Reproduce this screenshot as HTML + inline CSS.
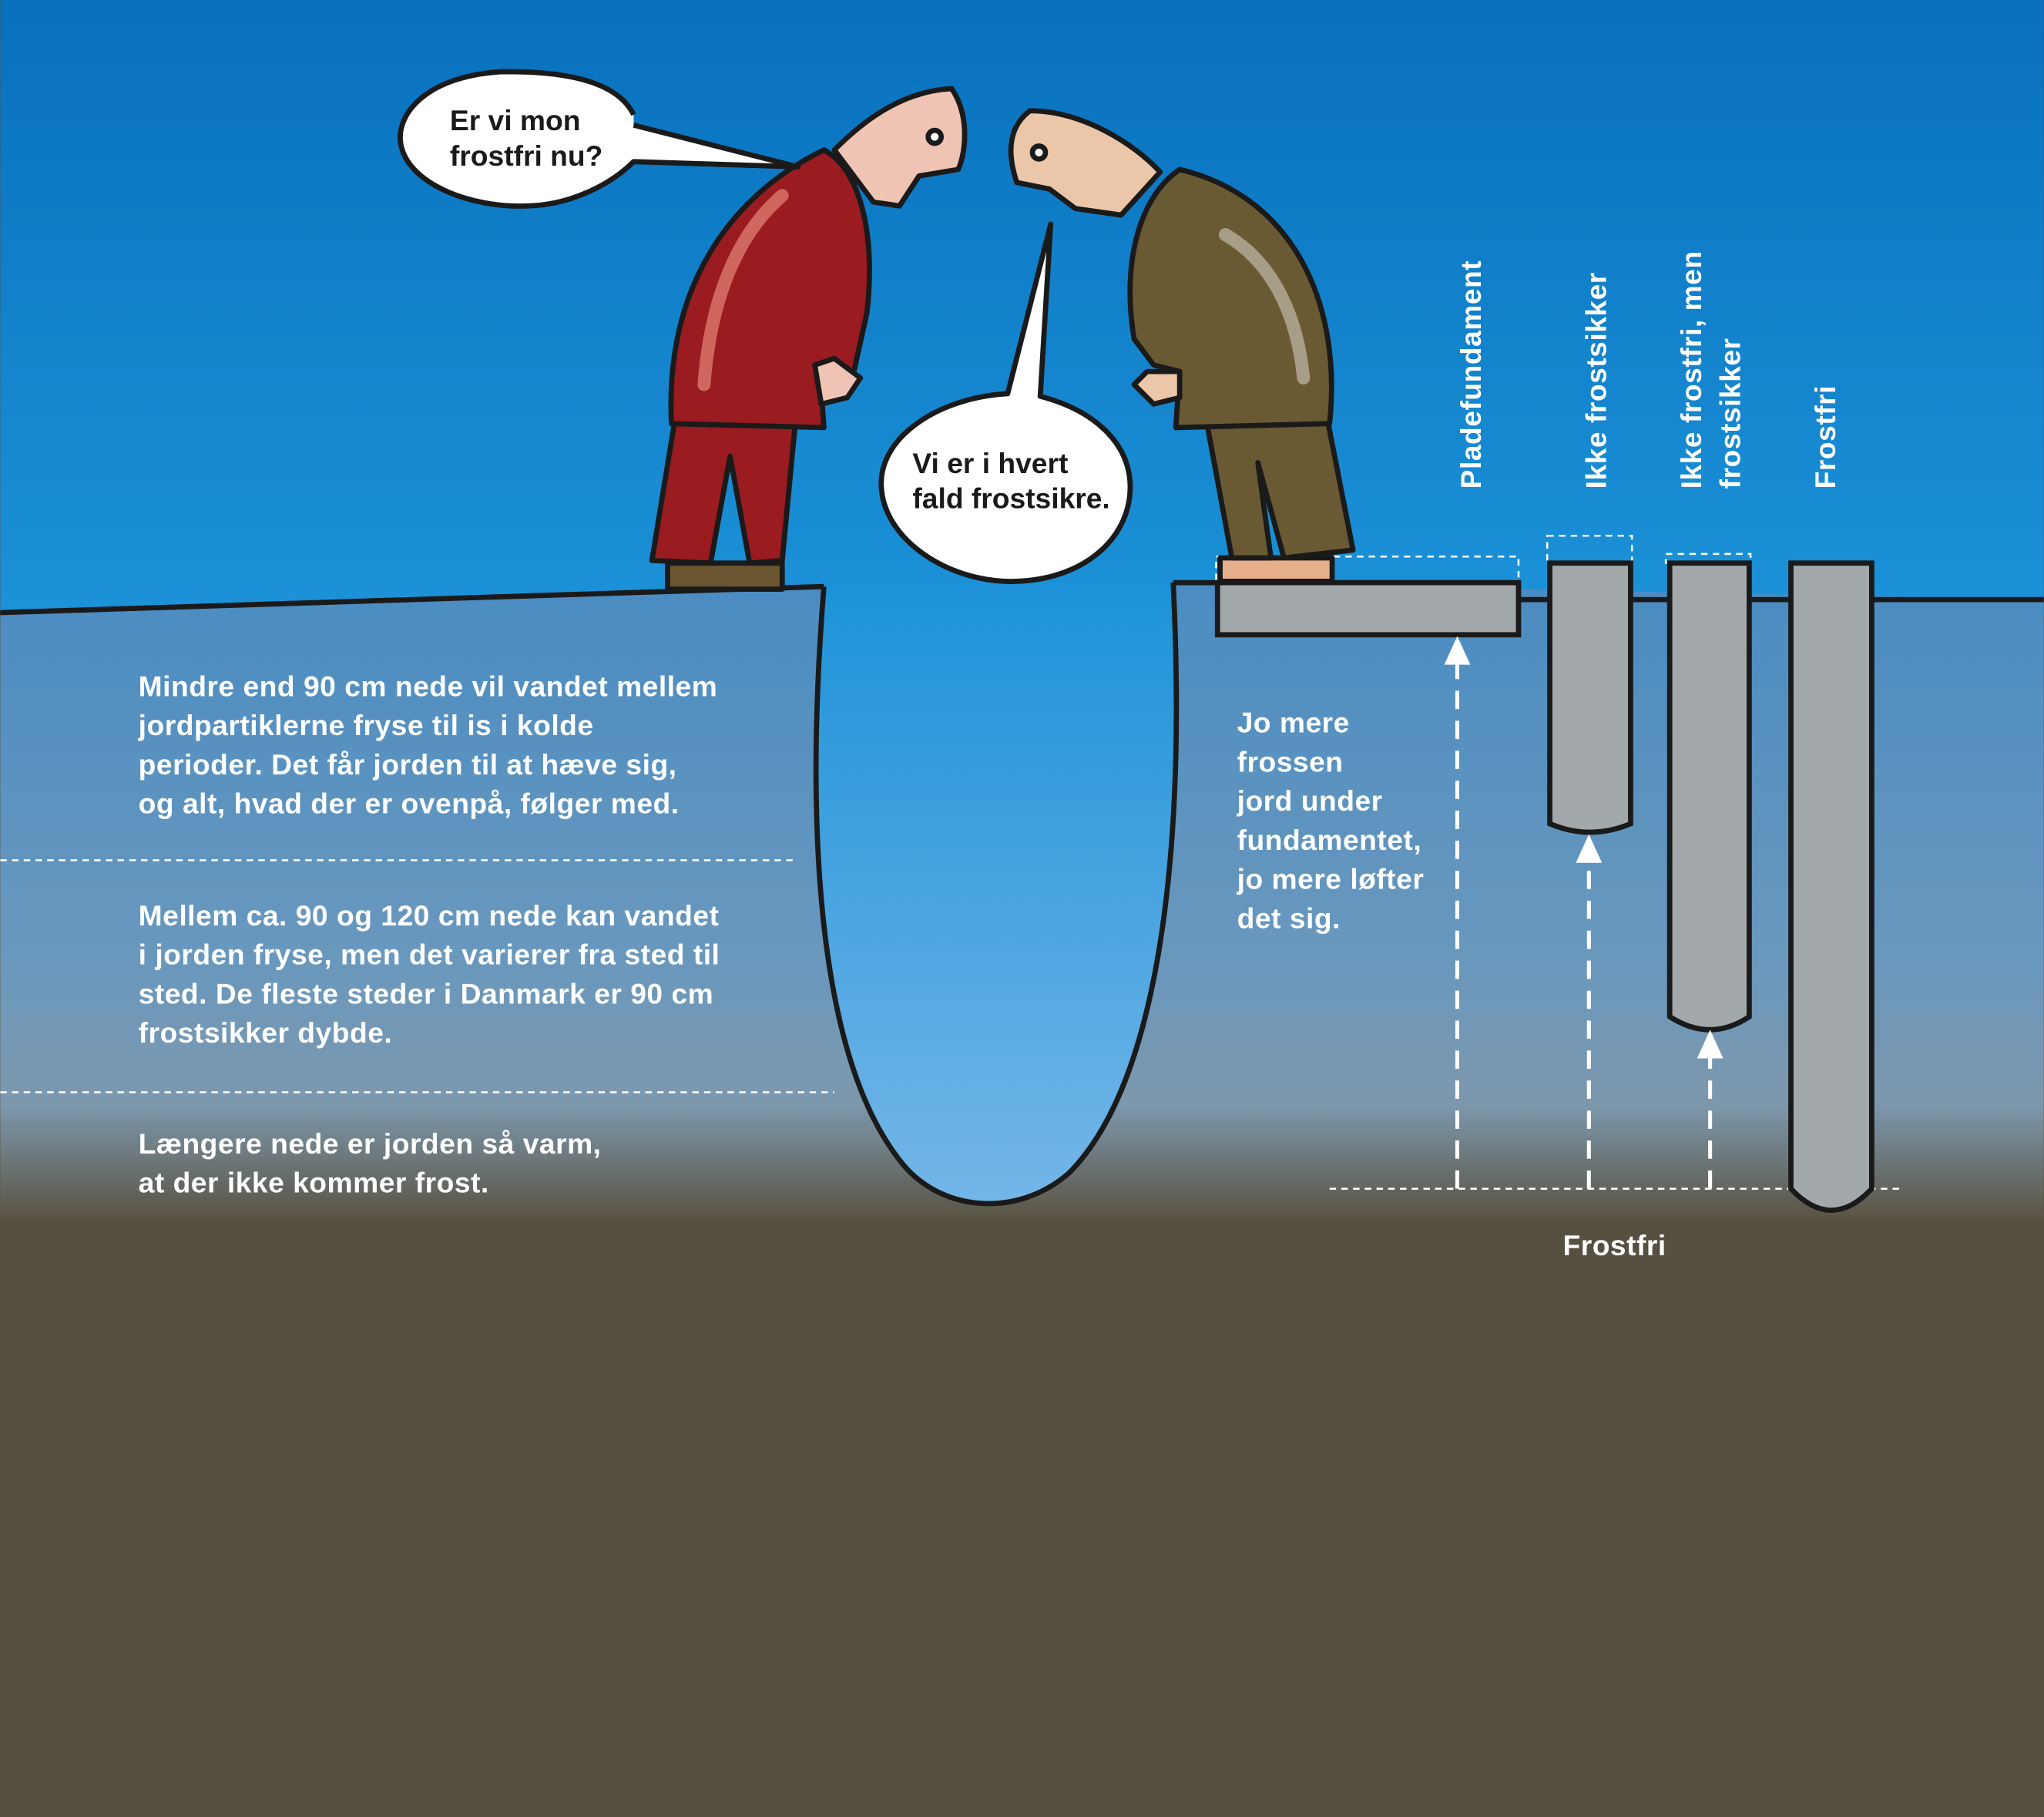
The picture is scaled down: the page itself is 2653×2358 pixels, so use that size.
<!DOCTYPE html>
<html><head><meta charset="utf-8">
<style>
html,body{margin:0;padding:0;background:#555040;}
svg{display:block;}
text{font-family:"Liberation Sans",sans-serif;font-weight:bold;}
</style></head>
<body>
<svg width="2653" height="2358" viewBox="0 0 1568 1394" xmlns="http://www.w3.org/2000/svg">
<defs>
<linearGradient id="sky" x1="0" y1="0" x2="0" y2="1">
<stop offset="0" stop-color="#0870bd"/><stop offset="1" stop-color="#1c92d8"/>
</linearGradient>
<linearGradient id="ground" x1="0" y1="0" x2="0" y2="1">
<stop offset="0" stop-color="#4a8cc2"/><stop offset="0.6" stop-color="#6a98bd"/>
<stop offset="0.82" stop-color="#7d98ad"/><stop offset="1" stop-color="#5a5443"/>
</linearGradient>
<linearGradient id="hole" x1="0" y1="0" x2="0" y2="1">
<stop offset="0" stop-color="#1c92d8"/><stop offset="1" stop-color="#74b6e8"/>
</linearGradient>
</defs>
<rect width="1568" height="1394" fill="#565040"/>
<rect width="1568" height="470" fill="url(#sky)"/>
<!-- ground -->
<path d="M0,470 L632,450 L900,447 L1568,460 L1568,935 L0,935 z" fill="url(#ground)"/>
<!-- hole -->
<path d="M632,450 C620,600 620,800 690,890 C720,930 780,935 820,900 C890,830 910,650 900,447 L632,447 Z" fill="url(#hole)"/>
<path d="M632,450 C620,600 620,800 690,890 C720,930 780,935 820,900 C890,830 910,650 900,447" fill="none" stroke="#1a1a1a" stroke-width="4"/>
<path d="M0,470 L632,450 M900,447 L935,447 M1165,460 L1568,460" stroke="#1a1a1a" stroke-width="4" fill="none"/>
<!-- dashed lines -->
<g stroke="#fff" stroke-width="1.5" stroke-dasharray="5,4" fill="none">
<line x1="0" y1="660" x2="610" y2="660"/>
<line x1="0" y1="838" x2="640" y2="838"/>
<line x1="1020" y1="912" x2="1458" y2="912"/>
<rect x="933" y="427" width="232" height="20"/>
<rect x="1187" y="411" width="65" height="21"/>
<rect x="1278" y="425" width="65" height="7"/>
</g>
<!-- foundations -->
<g fill="#a3a8ab" stroke="#1a1a1a" stroke-width="4">
<rect x="934" y="447" width="231" height="40"/>
<path d="M1189,432 H1251 V632 Q1220,645 1189,632 Z"/>
<path d="M1281,432 H1342 V780 Q1312,800 1281,780 Z"/>
<path d="M1374,432 H1436 V912 Q1405,945 1374,912 Z"/>
</g>
<!-- arrows -->
<g stroke="#fff" stroke-width="3" stroke-dasharray="14,9" fill="none">
<line x1="1118" y1="912" x2="1118" y2="505"/>
<line x1="1219" y1="912" x2="1219" y2="655"/>
<line x1="1312" y1="912" x2="1312" y2="805"/>
</g>
<g fill="#fff">
<path d="M1108,510 L1118,488 L1128,510 z"/>
<path d="M1209,662 L1219,640 L1229,662 z"/>
<path d="M1302,812 L1312,790 L1322,812 z"/>
</g>
<!-- texts -->
<g fill="#fff" font-size="22" letter-spacing="0.3">
<text x="106" y="534">Mindre end 90 cm nede vil vandet mellem</text>
<text x="106" y="564">jordpartiklerne fryse til is i kolde</text>
<text x="106" y="594">perioder. Det får jorden til at hæve sig,</text>
<text x="106" y="624">og alt, hvad der er ovenpå, følger med.</text>
<text x="106" y="710">Mellem ca. 90 og 120 cm nede kan vandet</text>
<text x="106" y="740">i jorden fryse, men det varierer fra sted til</text>
<text x="106" y="770">sted. De fleste steder i Danmark er 90 cm</text>
<text x="106" y="800">frostsikker dybde.</text>
<text x="106" y="885">Længere nede er jorden så varm,</text>
<text x="106" y="915">at der ikke kommer frost.</text>
<text x="949" y="562">Jo mere</text>
<text x="949" y="592">frossen</text>
<text x="949" y="622">jord under</text>
<text x="949" y="652">fundamentet,</text>
<text x="949" y="682">jo mere løfter</text>
<text x="949" y="712">det sig.</text>
<text x="1199" y="963">Frostfri</text>
<text transform="translate(1136,375) rotate(-90)">Pladefundament</text>
<text transform="translate(1232,375) rotate(-90)">Ikke frostsikker</text>
<text transform="translate(1305,375) rotate(-90)">Ikke frostfri, men</text>
<text transform="translate(1335,375) rotate(-90)">frostsikker</text>
<text transform="translate(1408,375) rotate(-90)">Frostfri</text>
</g>
<!-- left man (red) -->
<g stroke="#1a1a1a" stroke-width="4" stroke-linejoin="round">
<path d="M512,432 L600,432 L600,452 L512,452 Z" fill="#6b5530"/>
<path d="M518,320 L500,430 L545,432 L560,350 L575,432 L600,430 L610,325 Z" fill="#9a1b20"/>
<path d="M515,325 C510,220 560,150 632,115 C660,130 672,180 665,240 L655,285 L630,300 L632,328 Z" fill="#9a1b20"/>
<path d="M540,295 C545,230 565,180 600,150" stroke="#d0675e" stroke-width="10" fill="none" stroke-linecap="round"/>
<path d="M640,115 C660,95 690,70 730,68 C745,90 740,120 735,130 L705,135 L690,158 L670,155 Z" fill="#f0c4b4"/>
<circle cx="717" cy="105" r="5" fill="#fff"/>
<path d="M625,280 L640,275 L660,290 L650,305 L630,310 Z" fill="#f0c4b4"/>
</g>
<!-- right man (olive) -->
<g stroke="#1a1a1a" stroke-width="4" stroke-linejoin="round">
<path d="M936,428 L1022,428 L1022,446 L936,446 Z" fill="#e7b08a"/>
<path d="M925,320 L945,428 L975,428 L965,355 L985,428 L1038,422 L1018,320 Z" fill="#6a5a33"/>
<path d="M1020,325 C1030,230 990,150 905,130 C875,150 860,200 870,260 L885,280 L905,285 L902,328 Z" fill="#6a5a33"/>
<path d="M1000,290 C995,240 975,200 940,180" stroke="#a89d86" stroke-width="10" fill="none" stroke-linecap="round"/>
<path d="M890,132 C870,110 830,85 790,85 C770,100 775,125 780,140 L805,145 L825,160 L860,165 Z" fill="#ecc6a8"/>
<circle cx="797" cy="117" r="5" fill="#fff"/>
<path d="M880,285 L870,295 L885,310 L905,305 L905,285 Z" fill="#ecc6a8"/>
</g>
<!-- bubbles -->
<g fill="#fff" stroke="#1a1a1a" stroke-width="4" stroke-linejoin="round">
<path d="M486,88 C470,55 410,55 385,55 C330,58 305,85 307,108 C310,140 360,160 405,158 C440,157 470,140 486,124 L612,128 L486,96"/>
<path d="M773,302 C720,305 675,335 676,372 C677,415 730,448 780,446 C835,444 868,410 867,372 C866,340 840,315 798,304 L806,172 Z"/>
</g>
<g fill="#1a1a1a" font-size="22">
<text x="345" y="100">Er vi mon</text>
<text x="345" y="127">frostfri nu?</text>
<text x="700" y="363">Vi er i hvert</text>
<text x="700" y="390">fald frostsikre.</text>
</g>
</svg>
</body></html>
